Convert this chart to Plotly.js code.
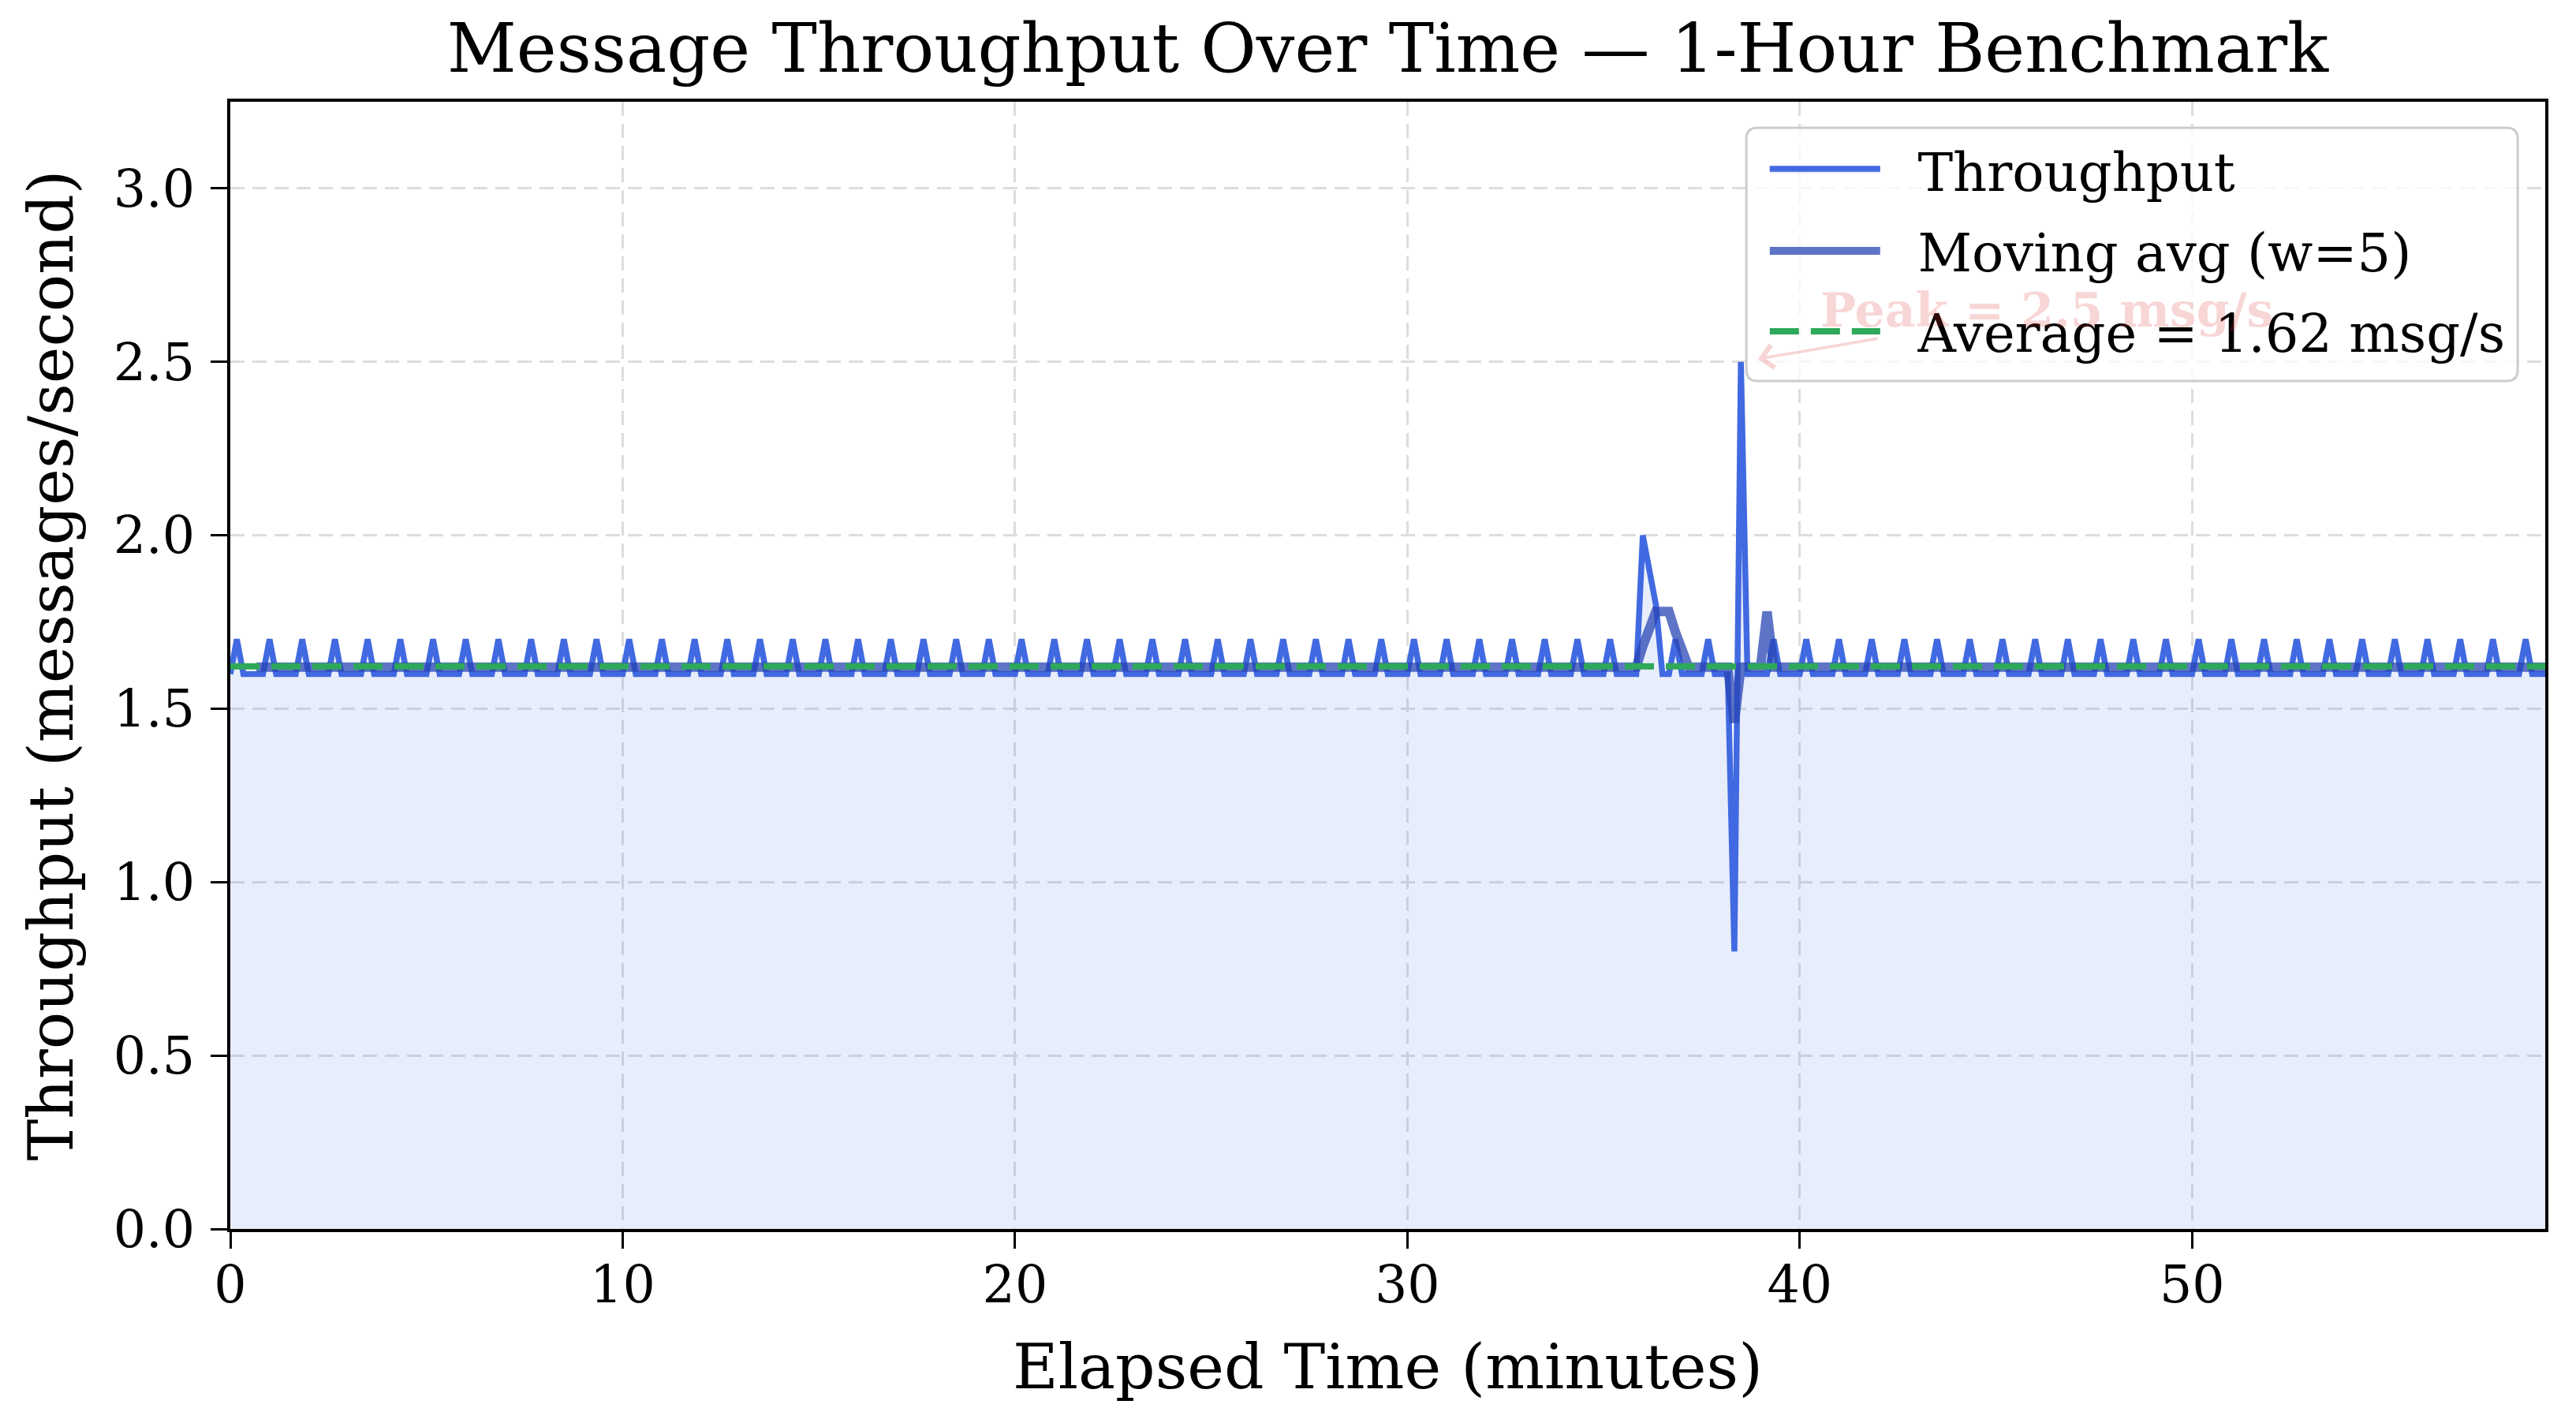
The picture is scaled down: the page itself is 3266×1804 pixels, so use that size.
<!DOCTYPE html>
<html>
<head>
<meta charset="utf-8">
<script src="https://cdn.plot.ly/plotly-3.0.1.min.js"></script>
<style>
html,body{margin:0;padding:0;background:#ffffff;}
#chart{width:3266px;height:1804px;}
</style>
</head>
<body>
<div id="chart"></div>
<script>
// ---- data (10-second windows) ----
const elapsedSeconds = [
  0,10,20,30,40,50,60,70,80,90,
  100,110,120,130,140,150,160,170,180,190,
  200,210,220,230,240,250,260,270,280,290,
  300,310,320,330,340,350,360,370,380,390,
  400,410,420,430,440,450,460,470,480,490,
  500,510,520,530,540,550,560,570,580,590,
  600,610,620,630,640,650,660,670,680,690,
  700,710,720,730,740,750,760,770,780,790,
  800,810,820,830,840,850,860,870,880,890,
  900,910,920,930,940,950,960,970,980,990,
  1000,1010,1020,1030,1040,1050,1060,1070,1080,1090,
  1100,1110,1120,1130,1140,1150,1160,1170,1180,1190,
  1200,1210,1220,1230,1240,1250,1260,1270,1280,1290,
  1300,1310,1320,1330,1340,1350,1360,1370,1380,1390,
  1400,1410,1420,1430,1440,1450,1460,1470,1480,1490,
  1500,1510,1520,1530,1540,1550,1560,1570,1580,1590,
  1600,1610,1620,1630,1640,1650,1660,1670,1680,1690,
  1700,1710,1720,1730,1740,1750,1760,1770,1780,1790,
  1800,1810,1820,1830,1840,1850,1860,1870,1880,1890,
  1900,1910,1920,1930,1940,1950,1960,1970,1980,1990,
  2000,2010,2020,2030,2040,2050,2060,2070,2080,2090,
  2100,2110,2120,2130,2140,2150,2160,2170,2180,2190,
  2200,2210,2220,2230,2240,2250,2260,2270,2280,2290,
  2300,2310,2320,2330,2340,2350,2360,2370,2380,2390,
  2400,2410,2420,2430,2440,2450,2460,2470,2480,2490,
  2500,2510,2520,2530,2540,2550,2560,2570,2580,2590,
  2600,2610,2620,2630,2640,2650,2660,2670,2680,2690,
  2700,2710,2720,2730,2740,2750,2760,2770,2780,2790,
  2800,2810,2820,2830,2840,2850,2860,2870,2880,2890,
  2900,2910,2920,2930,2940,2950,2960,2970,2980,2990,
  3000,3010,3020,3030,3040,3050,3060,3070,3080,3090,
  3100,3110,3120,3130,3140,3150,3160,3170,3180,3190,
  3200,3210,3220,3230,3240,3250,3260,3270,3280,3290,
  3300,3310,3320,3330,3340,3350,3360,3370,3380,3390,
  3400,3410,3420,3430,3440,3450,3460,3470,3480,3490,
  3500,3510,3520,3530,3540
];

const throughput = [
  1.6,1.7,1.6,1.6,1.6,1.6,1.7,1.6,1.6,1.6,
  1.6,1.7,1.6,1.6,1.6,1.6,1.7,1.6,1.6,1.6,
  1.6,1.7,1.6,1.6,1.6,1.6,1.7,1.6,1.6,1.6,
  1.6,1.7,1.6,1.6,1.6,1.6,1.7,1.6,1.6,1.6,
  1.6,1.7,1.6,1.6,1.6,1.6,1.7,1.6,1.6,1.6,
  1.6,1.7,1.6,1.6,1.6,1.6,1.7,1.6,1.6,1.6,
  1.6,1.7,1.6,1.6,1.6,1.6,1.7,1.6,1.6,1.6,
  1.6,1.7,1.6,1.6,1.6,1.6,1.7,1.6,1.6,1.6,
  1.6,1.7,1.6,1.6,1.6,1.6,1.7,1.6,1.6,1.6,
  1.6,1.7,1.6,1.6,1.6,1.6,1.7,1.6,1.6,1.6,
  1.6,1.7,1.6,1.6,1.6,1.6,1.7,1.6,1.6,1.6,
  1.6,1.7,1.6,1.6,1.6,1.6,1.7,1.6,1.6,1.6,
  1.6,1.7,1.6,1.6,1.6,1.6,1.7,1.6,1.6,1.6,
  1.6,1.7,1.6,1.6,1.6,1.6,1.7,1.6,1.6,1.6,
  1.6,1.7,1.6,1.6,1.6,1.6,1.7,1.6,1.6,1.6,
  1.6,1.7,1.6,1.6,1.6,1.6,1.7,1.6,1.6,1.6,
  1.6,1.7,1.6,1.6,1.6,1.6,1.7,1.6,1.6,1.6,
  1.6,1.7,1.6,1.6,1.6,1.6,1.7,1.6,1.6,1.6,
  1.6,1.7,1.6,1.6,1.6,1.6,1.7,1.6,1.6,1.6,
  1.6,1.7,1.6,1.6,1.6,1.6,1.7,1.6,1.6,1.6,
  1.6,1.7,1.6,1.6,1.6,1.6,1.7,1.6,1.6,1.6,
  1.6,1.7,1.6,1.6,1.6,1.6,2.0,1.9,1.8,1.6,
  1.6,1.7,1.6,1.6,1.6,1.6,1.7,1.6,1.6,1.6,
  0.8,2.5,1.6,1.6,1.6,1.6,1.7,1.6,1.6,1.6,
  1.6,1.7,1.6,1.6,1.6,1.6,1.7,1.6,1.6,1.6,
  1.6,1.7,1.6,1.6,1.6,1.6,1.7,1.6,1.6,1.6,
  1.6,1.7,1.6,1.6,1.6,1.6,1.7,1.6,1.6,1.6,
  1.6,1.7,1.6,1.6,1.6,1.6,1.7,1.6,1.6,1.6,
  1.6,1.7,1.6,1.6,1.6,1.6,1.7,1.6,1.6,1.6,
  1.6,1.7,1.6,1.6,1.6,1.6,1.7,1.6,1.6,1.6,
  1.6,1.7,1.6,1.6,1.6,1.6,1.7,1.6,1.6,1.6,
  1.6,1.7,1.6,1.6,1.6,1.6,1.7,1.6,1.6,1.6,
  1.6,1.7,1.6,1.6,1.6,1.6,1.7,1.6,1.6,1.6,
  1.6,1.7,1.6,1.6,1.6,1.6,1.7,1.6,1.6,1.6,
  1.6,1.7,1.6,1.6,1.6,1.6,1.7,1.6,1.6,1.6,
  1.6,1.7,1.6,1.6,1.6
];

const movingWindow = 5;
const xTickVals = [0, 10, 20, 30, 40, 50];
const yTickVals = [0, 0.5, 1.0, 1.5, 2.0, 2.5, 3.0];
const xRange = [0, 59];
const yRange = [0, 3.25];

const titleText = 'Message Throughput Over Time \u2014 1-Hour Benchmark';
const xTitleText = 'Elapsed Time (minutes)';
const yTitleText = 'Throughput (messages/second)';

// ---- derived series ----
const elapsedMinutes = elapsedSeconds.map(s => s / 60);
const movingAvg = throughput.map((v, i) => {
  if (i < movingWindow - 1) return null;
  let s = 0;
  for (let k = i - movingWindow + 1; k <= i; k++) s += throughput[k];
  return Math.round(s / movingWindow * 10000) / 10000;
});
const avgValue = throughput.reduce((a, b) => a + b, 0) / throughput.length;
let peakIdx = 0;
throughput.forEach((v, i) => { if (v > throughput[peakIdx]) peakIdx = i; });
const peakTime = elapsedMinutes[peakIdx];
const peakVal = throughput[peakIdx];

const FONT = 'DejaVu Serif, serif';
const GAP = '\u00a0\u00a0';

const traces = [
  {
    x: elapsedMinutes, y: throughput, type: 'scatter', mode: 'lines',
    name: GAP + 'Throughput', legendgroup: 'a',
    line: {color: '#4169e1', width: 7.5},
    fill: 'tozeroy', fillcolor: 'rgba(65,105,225,0.12)'
  },
  {
    x: elapsedMinutes, y: movingAvg, type: 'scatter', mode: 'lines',
    name: GAP + 'Moving avg (w=' + movingWindow + ')', legendgroup: 'b',
    line: {color: 'rgba(40,70,180,0.75)', width: 12},
    connectgaps: false
  },
  {
    x: [xRange[0], xRange[1]], y: [avgValue, avgValue], type: 'scatter', mode: 'lines',
    name: GAP + 'Average = ' + avgValue.toFixed(2) + ' msg/s', legendgroup: 'c',
    line: {color: '#2ea85a', width: 8, dash: '37px,15px'}
  }
];

const axisCommon = {
  showline: true, linecolor: '#000000', linewidth: 4, mirror: true,
  ticks: 'outside', ticklen: 21, tickwidth: 3, tickcolor: '#000000',
  showgrid: true, gridcolor: '#dddddd', gridwidth: 3, griddash: '18px,10px',
  zeroline: false,
  tickfont: {family: FONT, size: 65, color: '#000000'}
};

// legend frame (rounded, semi-transparent) in paper coordinates
const box = {x0: 0.6549, x1: 0.9881, y0: 0.7523, y1: 0.9769, rx: 0.0048, ry: 0.0098};
const boxPath =
  'M' + (box.x0 + box.rx) + ',' + box.y1 +
  ' L' + (box.x1 - box.rx) + ',' + box.y1 +
  ' Q' + box.x1 + ',' + box.y1 + ' ' + box.x1 + ',' + (box.y1 - box.ry) +
  ' L' + box.x1 + ',' + (box.y0 + box.ry) +
  ' Q' + box.x1 + ',' + box.y0 + ' ' + (box.x1 - box.rx) + ',' + box.y0 +
  ' L' + (box.x0 + box.rx) + ',' + box.y0 +
  ' Q' + box.x0 + ',' + box.y0 + ' ' + box.x0 + ',' + (box.y0 + box.ry) +
  ' L' + box.x0 + ',' + (box.y1 - box.ry) +
  ' Q' + box.x0 + ',' + box.y1 + ' ' + (box.x0 + box.rx) + ',' + box.y1 + ' Z';

const layout = {
  width: 3266, height: 1804,
  paper_bgcolor: '#ffffff', plot_bgcolor: '#ffffff',
  margin: {l: 292, r: 39, t: 129, b: 246, pad: 0},
  title: {
    text: titleText, font: {family: FONT, size: 86, color: '#000000'},
    x: 0.5, xref: 'paper', xanchor: 'center',
    y: 1 - 61 / 1804, yref: 'container', yanchor: 'middle'
  },
  xaxis: Object.assign({}, axisCommon, {
    range: xRange, tickvals: xTickVals, ticktext: xTickVals.map(String),
    ticklabelstandoff: -10,
    title: {text: xTitleText, font: {family: FONT, size: 79, color: '#000000'}, standoff: 41}
  }),
  yaxis: Object.assign({}, axisCommon, {
    range: yRange, tickvals: yTickVals, tickformat: '.1f',
    ticklabelstandoff: 7,
    title: {text: yTitleText, font: {family: FONT, size: 79, color: '#000000'}, standoff: 26}
  }),
  shapes: [{
    type: 'path', xref: 'paper', yref: 'paper', path: boxPath, layer: 'above',
    fillcolor: 'rgba(255,255,255,0.8)', line: {color: '#cccccc', width: 3}
  }],
  showlegend: true,
  legend: {
    x: 0.9846, xanchor: 'right', y: 0.9742, yanchor: 'top',
    bgcolor: 'rgba(0,0,0,0)', borderwidth: 0,
    font: {family: FONT, size: 67, color: '#000000'},
    itemwidth: 140, tracegroupgap: 12, traceorder: 'grouped', indentation: 17
  },
  annotations: [{
    x: peakTime, y: peakVal, xref: 'x', yref: 'y',
    ax: peakTime + 7.8, ay: 2.65, axref: 'x', ayref: 'y',
    text: '<b>Peak = ' + peakVal + ' msg/s</b>',
    font: {family: FONT, size: 60, color: 'rgba(220,50,50,0.2)'},
    showarrow: true, arrowhead: 4, arrowsize: 1.6, arrowwidth: 3.5,
    arrowcolor: 'rgba(220,50,50,0.2)', standoff: 22
  }]
};

Plotly.newPlot('chart', traces, layout, {staticPlot: true, displayModeBar: false});
</script>
</body>
</html>
